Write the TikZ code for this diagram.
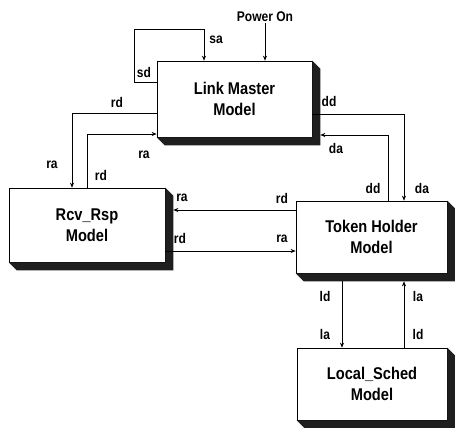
\documentclass[tikz,border=0pt]{standalone}
\usepackage{fontspec}
\setmainfont[FakeStretch=0.86]{Liberation Sans}
\usetikzlibrary{arrows.meta}

\begin{document}
\begin{tikzpicture}[
  x=1pt, y=-1pt,
  >={Stealth[length=5pt,width=4pt]},
  model/.style={draw, fill=white, line width=0.7pt, align=center, inner sep=0pt,
    font=\fontsize{17}{21}\selectfont\bfseries},
  sig/.style={font=\fontsize{14}{16}\selectfont\bfseries, inner sep=1pt},
  arrow/.style={->, line width=0.6pt}
]
\useasboundingbox (0,0) rectangle (455,428);

% the four models
\node[model, minimum width=155pt, minimum height=76pt] (lm)  at (234.5,99) {Link Master\\Model};
\node[model, minimum width=156pt, minimum height=74pt] (rcv) at (87,225)   {Rcv\_Rsp\\Model};
\node[model, minimum width=151pt, minimum height=72pt] (th)  at (371.5,237) {Token Holder\\Model};
\node[model, minimum width=150pt, minimum height=72pt] (ls)  at (372,384)  {Local\_Sched\\Model};

% shadows
\foreach \n in {lm,rcv,th,ls}
  \fill[black!88] (\n.north east) -- ([shift={(8,8)}]\n.north east)
    -- ([shift={(8,8)}]\n.south east) -- ([shift={(8,8)}]\n.south west)
    -- (\n.south west) -- (\n.south east) -- cycle;
\coordinate (lmr)  at ([xshift=8pt]lm.east);
\coordinate (rcvr) at ([xshift=8pt]rcv.east);
\coordinate (thb)  at ([yshift=-8pt]th.south);

\node[sig] (pwr) at (265,17) {Power On};
\draw[arrow] (pwr) -- (pwr |- lm.north);

% Link Master loop
\draw[arrow] (lm.west |- 0,82) -| (134,29) -| (lm.north -| 204,0);
\node[sig] at (144,72) {sd};
\node[sig] at (216,40) {sa};

% Link Master <-> Rcv_Rsp
\draw[arrow] (lm.west |- 0,113) -| (rcv.north -| 72,0);
\draw[arrow] (rcv.north -| 87,0) |- (lm.west |- 0,134);
\node[sig] at (117,102) {rd};
\node[sig] at (52,165) {ra};
\node[sig] at (101,175) {rd};
\node[sig] at (144,155) {ra};

% Link Master <-> Token Holder
\draw[arrow] (lm.east |- 0,114) -| (th.north -| 404,0);
\draw[arrow] (th.north -| 388,0) |- (lmr |- 0,135);
\node[sig] at (329,101) {dd};
\node[sig] at (336,148) {da};
\node[sig] at (373,188) {dd};
\node[sig] at (422,188) {da};

% Rcv_Rsp <-> Token Holder
\draw[arrow] (th.west |- 0,210) -- (rcvr |- 0,210);
\draw[arrow] (rcv.east |- 0,251) -- (th.west |- 0,251);
\node[sig] at (182,198) {ra};
\node[sig] at (282,198) {rd};
\node[sig] at (180,238) {rd};
\node[sig] at (282,239) {ra};

% Token Holder <-> Local_Sched
\draw[arrow] (thb -| 342,0) -- (ls.north -| 342,0);
\draw[arrow] (ls.north -| 404,0) -- (thb -| 404,0);
\node[sig] at (325,296) {ld};
\node[sig] at (325,334) {la};
\node[sig] at (418,296) {la};
\node[sig] at (418,334) {ld};
\end{tikzpicture}
\end{document}
